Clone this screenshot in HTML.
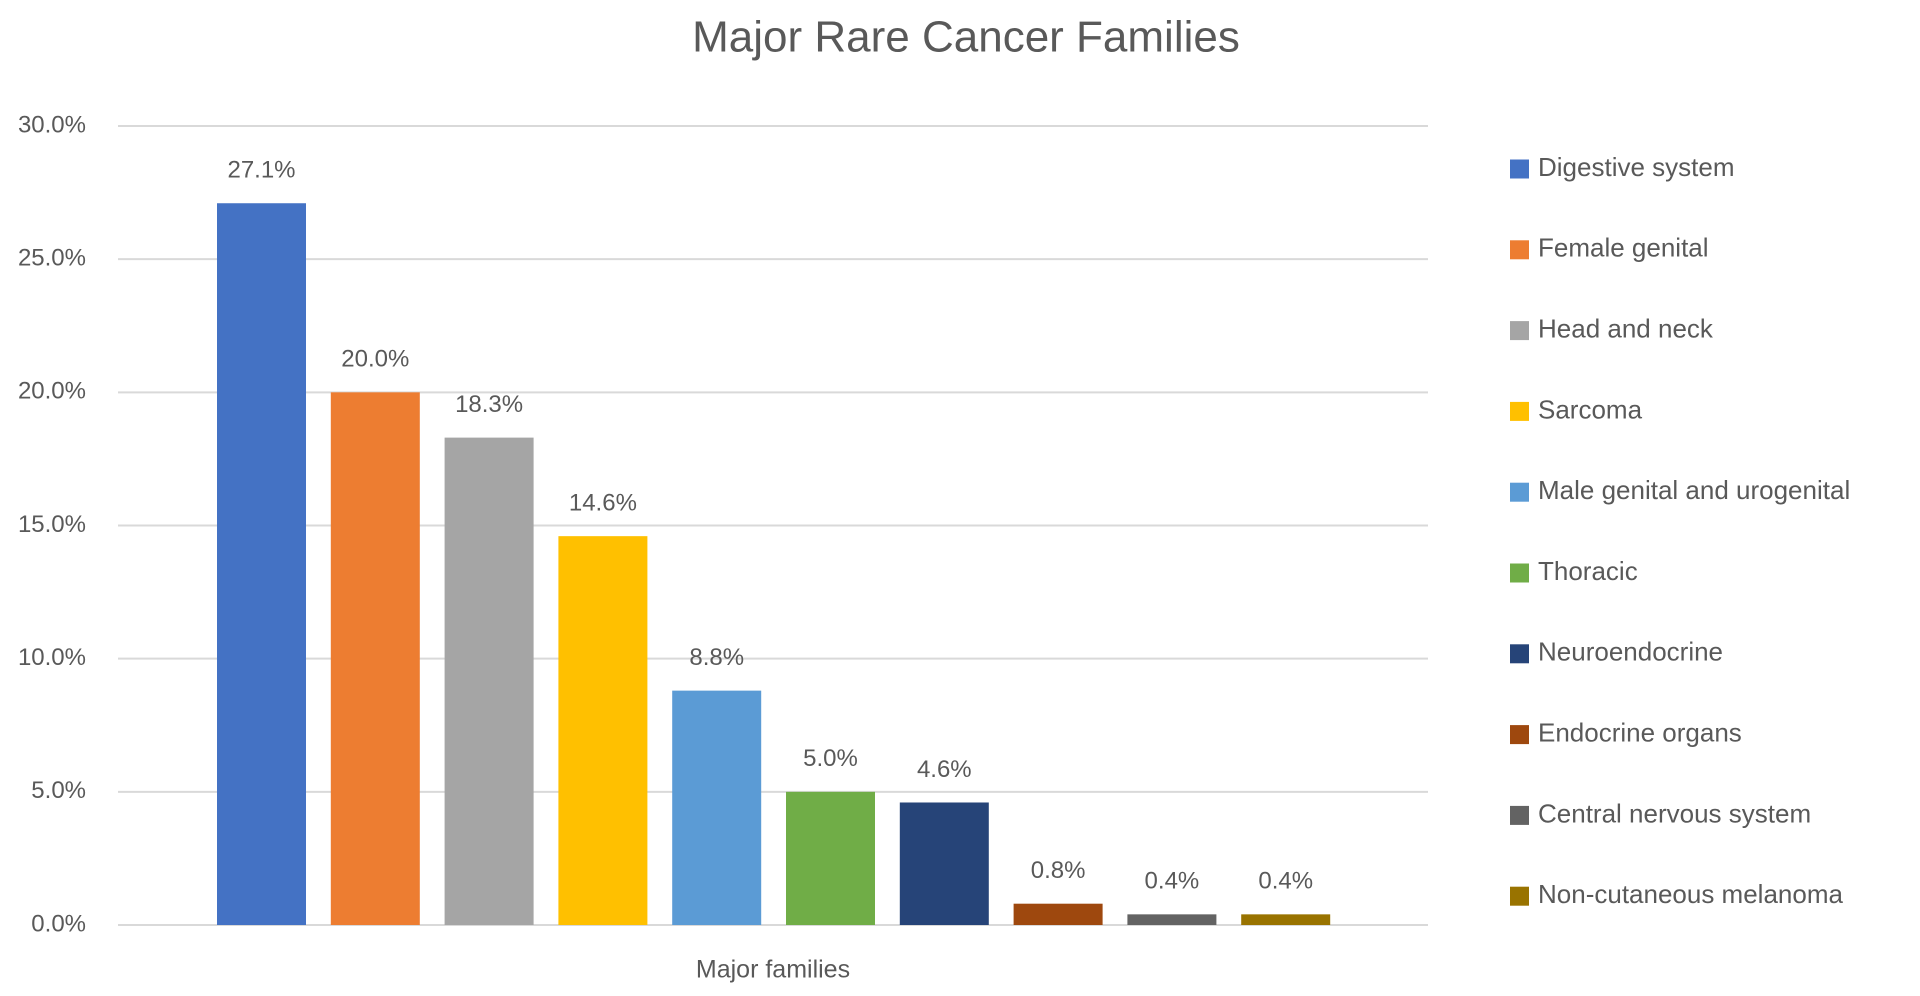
<!DOCTYPE html>
<html><head><meta charset="utf-8"><style>
body{margin:0;background:#fff;width:1920px;height:991px;overflow:hidden;font-family:"Liberation Sans",sans-serif;}
svg text{font-family:"Liberation Sans",sans-serif;fill:#595959;}
</style></head><body>
<svg id="chart" width="1920" height="991" xmlns="http://www.w3.org/2000/svg">
<text x="966" y="40" text-anchor="middle" font-size="44" dominant-baseline="middle">Major Rare Cancer Families</text>
<g id="grid"></g>
<g id="yticks"></g>
<g id="bars"></g>
<g id="labels"></g>
<g id="legend"></g>
<text x="773" y="971" text-anchor="middle" font-size="25" dominant-baseline="middle">Major families</text>
</svg>
<script>
const categories=["Digestive system","Female genital","Head and neck","Sarcoma","Male genital and urogenital","Thoracic","Neuroendocrine","Endocrine organs","Central nervous system","Non-cutaneous melanoma"];
const values=[27.1,20.0,18.3,14.6,8.8,5.0,4.6,0.8,0.4,0.4];
const colors=["#4472C4","#ED7D31","#A5A5A5","#FFC000","#5B9BD5","#70AD47","#264478","#9E480E","#636363","#997300"];
const yTicks=[0,5,10,15,20,25,30];
const NS="http://www.w3.org/2000/svg";
const y0=925,y30=126,yMax=30;
function yScale(v){return y0-(v/yMax)*(y0-y30);}
function xScale(i){return 217+i*113.8;}
const bw=89;
function mk(tag,attrs,parent){const e=document.createElementNS(NS,tag);for(const k in attrs)e.setAttribute(k,attrs[k]);parent.appendChild(e);return e;}
const grid=document.getElementById('grid'),yt=document.getElementById('yticks'),bars=document.getElementById('bars'),labels=document.getElementById('labels'),legend=document.getElementById('legend');
yTicks.forEach(t=>{
  const l=mk('line',{x1:118,x2:1428,y1:yScale(t),y2:yScale(t),stroke:'#d9d9d9','stroke-width':2},grid);
  
  
  const tx=mk('text',{x:86,y:yScale(t),'text-anchor':'end','dominant-baseline':'middle','font-size':24},yt);
  tx.textContent=t.toFixed(1)+'%';
  
  
});
values.forEach((v,i)=>{
  const r=mk('rect',{x:xScale(i),y:yScale(v),width:bw,height:y0-yScale(v),fill:colors[i]},bars);
  
  
  const t=mk('text',{x:xScale(i)+bw/2,y:yScale(v)-32,'text-anchor':'middle','dominant-baseline':'middle','font-size':24},labels);
  t.textContent=v.toFixed(1)+'%';
  
  
});
categories.forEach((c,i)=>{
  const cy=169+i*80.8;
  const s=mk('rect',{x:1510,y:cy-9.5,width:19,height:19,fill:colors[i]},legend);
  
  
  const t=mk('text',{x:1538,y:cy,'dominant-baseline':'middle','font-size':26},legend);
  t.textContent=c;
  
  
});
</script>
</body></html>
